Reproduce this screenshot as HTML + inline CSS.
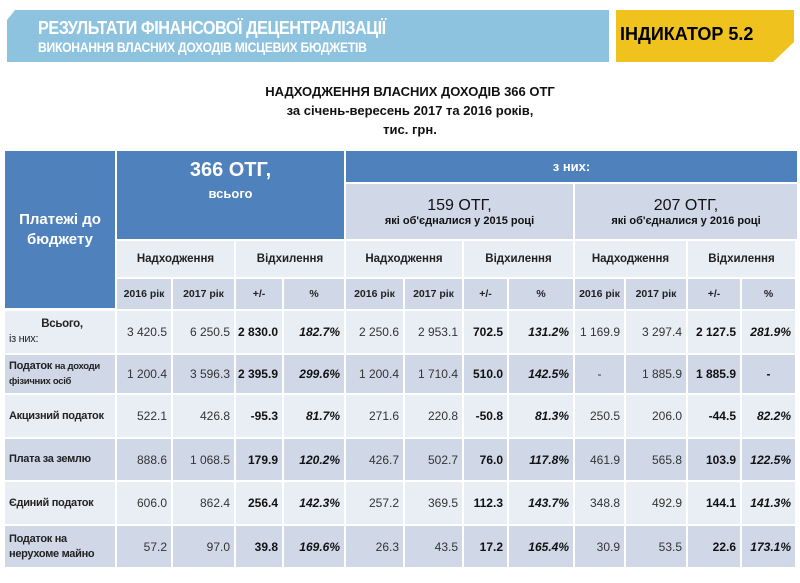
<!DOCTYPE html>
<html><head><meta charset="utf-8"><style>
body{margin:0;width:800px;height:583px;background:#fff;position:relative;overflow:hidden;font-family:"Liberation Sans","DejaVu Sans",sans-serif}
.a{position:absolute}
.c{position:absolute;box-sizing:border-box;display:flex;align-items:center;justify-content:center;text-align:center;font-size:12px;color:#333;white-space:nowrap}
.r{justify-content:flex-end;padding-right:4px}
.b{font-weight:bold;color:#111}
.i{font-style:italic;font-weight:bold;color:#111}
.h{font-weight:bold;color:#222;font-size:11.5px}
.lab{justify-content:flex-start!important;text-align:left;padding-left:4px;font-weight:bold;font-size:11px;color:#222;letter-spacing:-0.3px;line-height:15px}
</style></head><body>
<div class="a" style="left:7px;top:10px;width:602px;height:52px;background:#8ec3df"></div>
<div class="a" style="left:7px;top:10px;width:0;height:0;border-top:10px solid #fff;border-right:8px solid transparent"></div>
<div class="a" style="left:38px;top:18px;color:#fff;font-weight:bold;font-size:18px;letter-spacing:-0.5px;transform:scaleX(.9);transform-origin:left">РЕЗУЛЬТАТИ ФІНАНСОВОЇ ДЕЦЕНТРАЛІЗАЦІЇ</div>
<div class="a" style="left:38px;top:40px;color:#fff;font-weight:bold;font-size:13.5px;letter-spacing:-0.3px;transform:scaleX(.9);transform-origin:left">ВИКОНАННЯ ВЛАСНИХ ДОХОДІВ МІСЦЕВИХ БЮДЖЕТІВ</div>
<div class="a" style="left:616px;top:10px;width:178px;height:52px;background:#efc21d"></div>
<div class="a" style="left:773px;top:42px;width:0;height:0;border-bottom:20px solid #fff;border-left:21px solid transparent"></div>
<div class="a" style="left:620px;top:24px;font-weight:bold;font-size:18px;color:#000">ІНДИКАТОР 5.2</div>
<div class="a" style="left:0;width:800px;top:82px;text-align:center;font-weight:bold;font-size:13px;line-height:19px;color:#111;padding-left:20px;box-sizing:border-box">НАДХОДЖЕННЯ ВЛАСНИХ ДОХОДІВ 366 ОТГ<br>за січень-вересень 2017 та 2016 років,<br>тис. грн.</div>

<div class="c" style="left:5px;top:151px;width:110px;height:157px;background:#4f81bd;color:#fff;font-weight:bold;font-size:15px;line-height:20px;white-space:normal">Платежі до<br>бюджету</div>
<div class="c" style="left:117px;top:151px;width:227px;height:88px;background:#4f81bd;color:#fff;font-weight:bold;flex-direction:column;justify-content:flex-start;padding-top:8px"><span style="font-size:20px">366 ОТГ,</span><span style="font-size:13px;margin-top:4px">всього</span></div>
<div class="c" style="left:346px;top:151px;width:451px;height:31px;background:#4f81bd;color:#fff;font-weight:bold;font-size:13px">з них:</div>
<div class="c" style="left:346px;top:184px;width:227px;height:55px;background:#d0d8e8;flex-direction:column;font-weight:bold;color:#111"><span style="font-size:16px;font-weight:normal">159 ОТГ,</span><span style="font-size:11px">які об'єдналися у 2015 році</span></div>
<div class="c" style="left:575px;top:184px;width:222px;height:55px;background:#d0d8e8;flex-direction:column;font-weight:bold;color:#111"><span style="font-size:16px;font-weight:normal">207 ОТГ,</span><span style="font-size:11px">які об'єдналися у 2016 році</span></div>
<div id="t"></div>
<script>
var xs=[117,173,236,284,346,405,464,509,575,626,688,742,797];
var h='';
function cell(x1,x2,y1,y2,bg,txt,cls,st){h+='<div class="c '+(cls||'')+'" style="left:'+x1+'px;top:'+y1+'px;width:'+(x2-x1-2)+'px;height:'+(y2-y1-2)+'px;background:'+bg+';'+(st||'')+'">'+txt+'</div>';}
var groups=[[0,2],[2,4],[4,6],[6,8],[8,10],[10,12]];
groups.forEach(function(g,k){cell(xs[g[0]],xs[g[1]],241,279,'#e9edf4',k%2?'Відхилення':'Надходження','h');});
var yl=['2016 рік','2017 рік','+/-','%'];
for(var i=0;i<12;i++)cell(xs[i],xs[i+1],279,311,'#d0d8e8',yl[i%4],'h','font-size:10.5px');
var rows=[
['<div style="width:100%;padding-left:0"><div style="text-align:center;font-size:11.5px">Всього,</div><div style="font-weight:normal">із них:</div></div>',['3 420.5','6 250.5','2 830.0','182.7%','2 250.6','2 953.1','702.5','131.2%','1 169.9','3 297.4','2 127.5','281.9%']],
['<div>Податок <span style="font-size:9.5px">на доходи</span><br><span style="font-size:9.5px">фізичних осіб</span></div>',['1 200.4','3 596.3','2 395.9','299.6%','1 200.4','1 710.4','510.0','142.5%','-','1 885.9','1 885.9','-']],
['Акцизний податок',['522.1','426.8','-95.3','81.7%','271.6','220.8','-50.8','81.3%','250.5','206.0','-44.5','82.2%']],
['Плата за землю',['888.6','1 068.5','179.9','120.2%','426.7','502.7','76.0','117.8%','461.9','565.8','103.9','122.5%']],
['Єдиний податок',['606.0','862.4','256.4','142.3%','257.2','369.5','112.3','143.7%','348.8','492.9','144.1','141.3%']],
['Податок на<br>нерухоме майно',['57.2','97.0','39.8','169.6%','26.3','43.5','17.2','165.4%','30.9','53.5','22.6','173.1%']]];
var ys=[311,355,395,439,482,526,569];
rows.forEach(function(r,j){
 var bg=j%2?'#d0d8e8':'#e9edf4';
 h+='<div class="c lab" style="left:5px;top:'+ys[j]+'px;width:110px;height:'+(ys[j+1]-ys[j]-2)+'px;background:'+bg+'">'+r[0]+'</div>';
 for(var i=0;i<12;i++){var m=i%4;var cls=m==2?'b r':m==3?'i r':'r';
  if(r[1][i]=='-')cls=(m==3?'b':'');
  cell(xs[i],xs[i+1],ys[j],ys[j+1],bg,r[1][i],cls);}
});
document.getElementById('t').innerHTML=h;
</script>
</body></html>
